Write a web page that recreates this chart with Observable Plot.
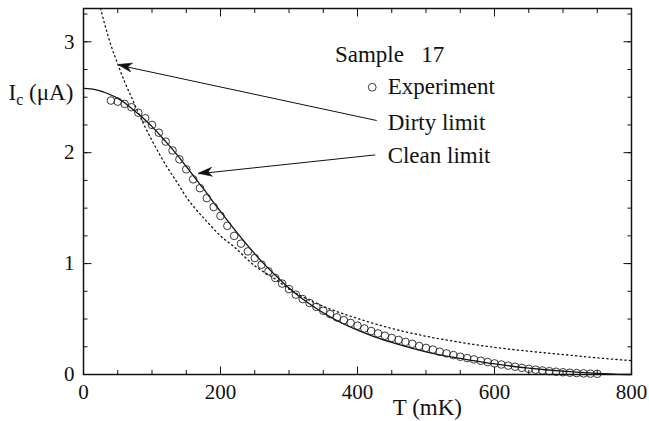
<!DOCTYPE html>
<html>
<head>
<meta charset="utf-8">
<script src="https://cdn.jsdelivr.net/npm/d3@7"></script>
<script src="https://cdn.jsdelivr.net/npm/@observablehq/plot@0.6"></script>
<style>
  html, body { margin: 0; padding: 0; background: #fff; }
  #chart svg { display: block; }
</style>
</head>
<body>
<div id="chart"></div>
<script>
// Experiment (open circles)
const expT = [40, 50, 60, 70, 80, 90, 100, 110, 120, 130, 140, 150, 160, 170, 180, 190, 200, 210, 220, 230,
  240, 250, 260, 270, 280, 290, 300, 310, 320, 330, 340, 350, 360, 370, 380, 390, 400, 410, 420, 430,
  440, 450, 460, 470, 480, 490, 500, 510, 520, 530, 540, 550, 560, 570, 580, 590, 600, 610, 620, 630,
  640, 650, 660, 670, 680, 690, 700, 710, 720, 730, 740, 750];
const expI = [2.47, 2.46, 2.44, 2.41, 2.36, 2.31, 2.25, 2.18, 2.10, 2.02, 1.94, 1.85, 1.76, 1.68, 1.59, 1.51, 1.43, 1.34, 1.25, 1.18,
  1.11, 1.05, 0.99, 0.93, 0.87, 0.82, 0.77, 0.72, 0.68, 0.645, 0.61, 0.575, 0.545, 0.515, 0.49, 0.465, 0.44, 0.415, 0.392, 0.37,
  0.35, 0.33, 0.312, 0.294, 0.277, 0.257, 0.24, 0.225, 0.205, 0.19, 0.175, 0.16, 0.148, 0.136, 0.124, 0.112, 0.10, 0.09, 0.08, 0.07,
  0.06, 0.051, 0.043, 0.036, 0.03, 0.025, 0.02, 0.016, 0.013, 0.01, 0.008, 0.006];

// Clean limit (solid)
const cleanT = [0, 10, 20, 30, 40, 50, 60, 70, 80, 90, 100, 110, 120, 130, 140, 150, 160, 170, 180, 190, 200,
  220, 240, 260, 280, 300, 320, 340, 360, 380, 400, 425, 450, 475, 500, 550, 600, 650, 700, 750, 780, 800];
const cleanI = [2.58, 2.575, 2.565, 2.545, 2.52, 2.49, 2.45, 2.40, 2.35, 2.295, 2.235, 2.17, 2.10, 2.03, 1.955, 1.875, 1.795, 1.715, 1.635, 1.55, 1.47,
  1.31, 1.16, 1.02, 0.895, 0.78, 0.68, 0.595, 0.52, 0.455, 0.40, 0.34, 0.29, 0.245, 0.205, 0.145, 0.095, 0.058, 0.03, 0.01, 0.002, 0];

// Dirty limit (dotted)
const dirtyT = [20, 25, 30, 40, 50, 60, 70, 80, 90, 100, 120, 140, 150, 160, 180, 200, 220, 250, 280, 300,
  330, 360, 400, 450, 500, 550, 600, 650, 700, 750, 800];
const dirtyI = [3.42, 3.30, 3.18, 2.97, 2.80, 2.64, 2.50, 2.36, 2.23, 2.11, 1.89, 1.70, 1.60, 1.52, 1.38, 1.25, 1.15, 0.98, 0.86, 0.77,
  0.67, 0.59, 0.505, 0.415, 0.345, 0.29, 0.245, 0.21, 0.18, 0.15, 0.125];

// Ticks
const xMajor = [0, 200, 400, 600, 800];
const xMinor = [0, 50, 100, 150, 200, 250, 300, 350, 400, 450, 500, 550, 600, 650, 700, 750, 800];
const yMajor = [0, 1, 2, 3];
const yMinor = [0, 0.25, 0.5, 0.75, 1, 1.25, 1.5, 1.75, 2, 2.25, 2.5, 2.75, 3, 3.25];

// Annotations (data coordinates)
const labelText = ["Sample\u00a0\u00a0\u00a017", "Experiment", "Dirty limit", "Clean limit"];
const labelT = [367, 444, 444, 444];
const labelI = [2.884, 2.599, 2.274, 1.972];
const legendDotT = [421.5];
const legendDotI = [2.59];
const arrowFromT = [428, 426];
const arrowFromI = [2.29, 1.98];
const arrowToT = [51, 168];
const arrowToI = [2.79, 1.81];
const xLabel = "T (mK)";
const yLabel = "Ic (\u03bcA)";

const exp = expT.map((t, i) => ({t, v: expI[i]}));
const clean = cleanT.map((t, i) => ({t, v: cleanI[i]}));
const dirty = dirtyT.map((t, i) => ({t, v: dirtyI[i]}));
const labels = labelText.map((s, i) => ({s, t: labelT[i], v: labelI[i]}));
const legendDot = legendDotT.map((t, i) => ({t, v: legendDotI[i]}));
const arrows = arrowFromT.map((t, i) => ({x1: t, y1: arrowFromI[i], x2: arrowToT[i], y2: arrowToI[i]}));

function arrowHeads(data) {
  return (index, scales) => {
    const g = d3.create("svg:g");
    for (const a of data) {
      const x1 = scales.x(a.x1), y1 = scales.y(a.y1), x2 = scales.x(a.x2), y2 = scales.y(a.y2);
      const ang = Math.atan2(y2 - y1, x2 - x1);
      const L = 14, W = 4.5, N = 10;
      const c = Math.cos(ang), s = Math.sin(ang);
      const bx = x2 - L * c, by = y2 - L * s;
      const nx = x2 - N * c, ny = y2 - N * s;
      const pts = [[x2, y2], [bx - s * W, by + c * W], [nx, ny], [bx + s * W, by - c * W]];
      g.append("path").attr("d", "M" + pts.map(p => p.join(",")).join("L") + "Z")
        .attr("fill", "#111").attr("stroke", "#111").attr("stroke-width", 0.6);
    }
    return g.node();
  };
}

const ink = "#111";
const plot = Plot.plot({
  width: 649,
  height: 421,
  marginLeft: 83,
  marginRight: 18,
  marginTop: 8,
  marginBottom: 47,
  style: {fontFamily: "'Liberation Serif', 'Times New Roman', serif", fontSize: "21px", color: ink, background: "#fff"},
  x: {domain: [0, 800]},
  y: {domain: [0, 3.3]},
  marks: [
    Plot.line(dirty, {x: "t", y: "v", stroke: ink, strokeWidth: 1.3, strokeDasharray: "1.3,3.2", curve: "monotone-x", clip: true}),
    Plot.line(clean, {x: "t", y: "v", stroke: ink, strokeWidth: 1.3, curve: "monotone-x"}),
    Plot.dot(exp, {x: "t", y: "v", r: 3.8, stroke: "#222", strokeWidth: 0.9, fill: "none"}),
    Plot.dot(legendDot, {x: "t", y: "v", r: 3.9, stroke: "#222", strokeWidth: 0.9, fill: "none"}),
    Plot.link(arrows, {x1: "x1", y1: "y1", x2: "x2", y2: "y2", stroke: ink, strokeWidth: 1}),
    arrowHeads(arrows),
    Plot.text(labels, {x: "t", y: "v", text: "s", textAnchor: "start", lineAnchor: "middle", fontSize: 23, fill: ink}),
    Plot.axisY({anchor: "left", ticks: yMinor, tickSize: -4.5, tickFormat: () => "", label: null, stroke: ink}),
    Plot.axisY({anchor: "left", ticks: yMajor, tickSize: -8.5, tickPadding: 17.5, tickFormat: d3.format("d"), label: null, fontSize: 21, stroke: ink, fill: ink}),
    Plot.axisY({anchor: "right", ticks: yMinor, tickSize: -4.5, tickFormat: () => "", label: null, stroke: ink}),
    Plot.axisY({anchor: "right", ticks: yMajor, tickSize: -8.5, tickFormat: () => "", label: null, stroke: ink}),
    Plot.axisX({anchor: "bottom", ticks: xMinor, tickSize: -4, tickFormat: () => "", label: null, stroke: ink}),
    Plot.axisX({anchor: "bottom", ticks: xMajor, tickSize: -7.5, tickPadding: 17.5, tickFormat: d3.format("d"), label: null, fontSize: 21, stroke: ink, fill: ink}),
    Plot.axisX({anchor: "top", ticks: xMinor, tickSize: -4, tickFormat: () => "", label: null, stroke: ink}),
    Plot.axisX({anchor: "top", ticks: xMajor, tickSize: -7.5, tickFormat: () => "", label: null, stroke: ink}),
    Plot.frame({stroke: ink, strokeWidth: 1.5}),
    Plot.text([xLabel], {frameAnchor: "bottom", x: () => 502, text: d => d, dy: 33, lineAnchor: "middle", fontSize: 23, fill: ink}),
    Plot.text([yLabel], {frameAnchor: "left", y: () => 2.54, text: d => d, dx: -75, textAnchor: "start", lineAnchor: "middle", fontSize: 23, fill: ink})
  ]
});

// subscript for the y label
d3.select(plot).selectAll("text").filter(function () { return this.textContent === yLabel; }).each(function () {
  const t = d3.select(this);
  t.text("");
  t.append("tspan").text("I");
  t.append("tspan").attr("font-size", 16).attr("dy", 5).text("c");
  t.append("tspan").attr("dy", -5).text("\u00a0(\u03bcA)");
});

document.getElementById("chart").appendChild(plot);
</script>
</body>
</html>
